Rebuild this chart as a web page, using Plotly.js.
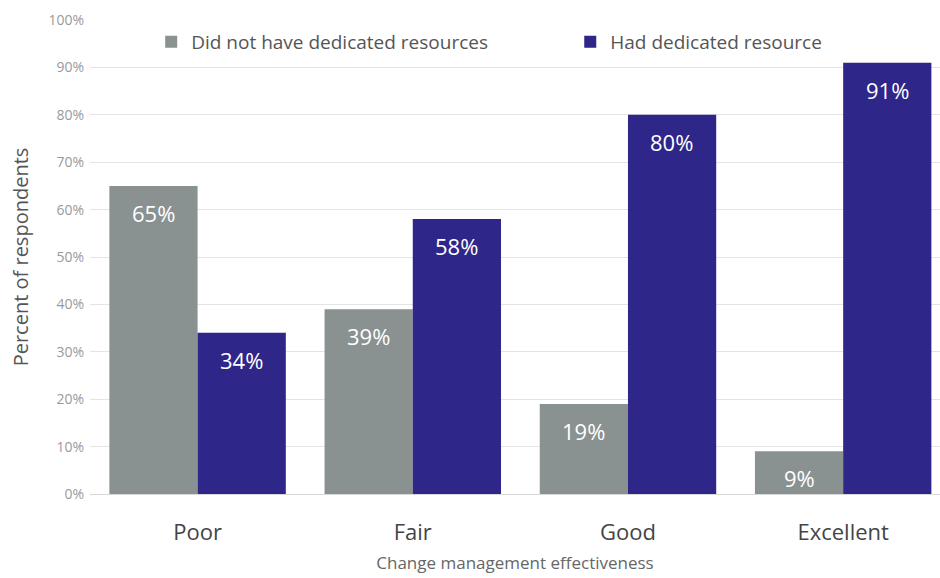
<!DOCTYPE html>
<html><head><meta charset="utf-8">
<script src="https://cdn.plot.ly/plotly-3.0.1.min.js"></script>
<style>html,body{margin:0;padding:0;background:#fff;}#chart{width:940px;height:578px;}</style>
</head><body><div id="chart"></div>
<script>
const categories = ["Poor", "Fair", "Good", "Excellent"];
const seriesNames = ["Did not have dedicated resources", "Had dedicated resource"];
const notDedicated = [65, 39, 19, 9];
const dedicated = [34, 58, 80, 91];
const yTickVals = [0,10,20,30,40,50,60,70,80,90,100];
const yTickText = yTickVals.map(v => v + "%");

const font = "'Open Sans', 'Noto Sans', sans-serif";
const traces = [
  {type:"bar", name:seriesNames[0], x:categories, y:notDedicated, legend:"legend",
   marker:{color:"#8a9191"}, textposition:"none", hoverinfo:"none"},
  {type:"bar", name:seriesNames[1], x:categories, y:dedicated, legend:"legend2",
   marker:{color:"#2e2688"}, textposition:"none", hoverinfo:"none"}
];
const annotations = [];
[notDedicated, dedicated].forEach((arr, si) => {
  arr.forEach((v, i) => {
    annotations.push({x:categories[i], y:v, text:v + "%", showarrow:false,
      xshift: si === 0 ? -44 : 44, yshift:-27,
      font:{family:font, size:22, color:"#ffffff"}});
  });
});
const legFont = {family:font, size:19, color:"#555"};
const layout = {
  width:940, height:578,
  margin:{l:90, r:0, t:20, b:84},
  paper_bgcolor:"#fff", plot_bgcolor:"#fff",
  barmode:"group", bargap:0.18, bargroupgap:0,
  showlegend:true,
  legend:{x:0.072, y:0.954, xanchor:"left", yanchor:"middle", bgcolor:"rgba(0,0,0,0)", font:legFont},
  legend2:{x:0.565, y:0.954, xanchor:"left", yanchor:"middle", bgcolor:"rgba(0,0,0,0)", font:legFont},
  xaxis:{range:[-0.5, 3.45], tickfont:{family:font, size:22, color:"#444"}, ticklabelstandoff:23,
    title:{text:"Change management effectiveness", font:{family:font, size:17, color:"#666"}, standoff:12},
    showgrid:false, zeroline:false, showline:false, ticks:""},
  yaxis:{range:[0,100], tickvals:yTickVals, ticktext:yTickText,
    tickfont:{family:font, size:14, color:"#9a9a9a"}, ticklabelstandoff:5,
    gridcolor:"#e4e4e4", gridwidth:1, zeroline:true, zerolinecolor:"#d8d8d8",
    title:{text:"Percent of respondents", font:{family:font, size:20, color:"#555"}, standoff:14},
    ticks:"", showline:false},
  annotations:annotations
};
Plotly.newPlot("chart", traces, layout, {displayModeBar:false, staticPlot:true});
</script></body></html>
